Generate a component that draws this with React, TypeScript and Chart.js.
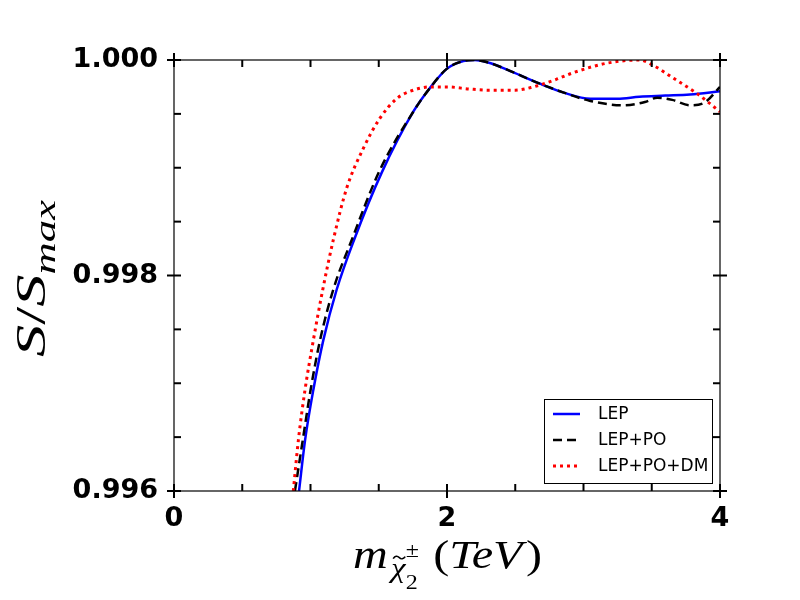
import React, { useEffect, useRef } from "react";
import { Chart, registerables } from "chart.js";

Chart.register(...registerables);

// values
const seriesLabels = ["LEP", "LEP+PO", "LEP+PO+DM"];
const seriesColors = ["#0000ff", "#000000", "#ff0000"];

const lepMass = [0.916, 0.96, 1.021, 1.094, 1.192, 1.319, 1.52, 1.753, 1.875, 2.0, 2.12, 2.2, 2.32, 2.44, 2.68, 2.85, 3.05, 3.25, 3.41, 3.6, 3.78, 4.0];
const lepRatio = [0.996, 0.99647, 0.99694, 0.9974, 0.99787, 0.99833, 0.99895, 0.99952, 0.99974, 0.99992, 0.99999, 1.0, 0.99997, 0.99991, 0.99978, 0.9997, 0.99964, 0.99964, 0.99966, 0.99967, 0.99968, 0.99971];

const lepPoMass = [0.886, 0.943, 1.001, 1.07, 1.167, 1.302, 1.505, 1.753, 1.875, 2.0, 2.12, 2.2, 2.32, 2.44, 2.68, 2.85, 3.05, 3.29, 3.45, 3.54, 3.65, 3.78, 3.88, 4.0];
const lepPoRatio = [0.996, 0.99647, 0.99694, 0.9974, 0.99787, 0.99833, 0.99897, 0.99952, 0.99974, 0.99992, 0.99999, 1.0, 0.99997, 0.99991, 0.99978, 0.9997, 0.99962, 0.99958, 0.99961, 0.99965, 0.99963, 0.99958, 0.9996, 0.99975];

const lepPoDmMass = [0.874, 0.911, 0.96, 1.021, 1.09, 1.167, 1.265, 1.387, 1.509, 1.63, 1.753, 1.875, 2.0, 2.17, 2.31, 2.5, 2.63, 2.8, 2.92, 3.17, 3.41, 3.51, 3.66, 3.83, 4.0];
const lepPoDmRatio = [0.996, 0.99647, 0.99694, 0.9974, 0.99787, 0.99833, 0.99881, 0.99918, 0.99946, 0.99964, 0.99972, 0.99975, 0.99975, 0.99973, 0.99972, 0.99972, 0.99975, 0.99982, 0.99988, 0.99997, 1.0, 0.99995, 0.99983, 0.99969, 0.99952];

const xTickValues = [0, 2, 4];
const xMinorTicks = [0.5, 1, 1.5, 2.5, 3, 3.5];
const yTickValues = [0.996, 0.998, 1.0];
const yMinorTicks = [0.9965, 0.997, 0.9975, 0.9985, 0.999, 0.9995];

const tickFont = { family: "'DejaVu Sans'", size: 27, weight: "bold" as const };
const serif = "'Liberation Serif', 'DejaVu Serif', serif";

type Seg = { text: string; size: number; italic: boolean; dy: number; dx?: number; stack?: Seg; tilde?: boolean };

// draws a little mathtext run, centred on (cx, baseline), stretched to targetW
function drawMath(ctx: CanvasRenderingContext2D, segs: Seg[], cx: number, baseline: number, targetW: number) {
  const font = (s: Seg) => `${s.italic ? "italic " : ""}${s.size}px ${serif}`;
  const widths = segs.map((s) => {
    ctx.font = font(s);
    let w = ctx.measureText(s.text).width;
    if (s.stack) {
      ctx.font = font(s.stack);
      w = Math.max(w, ctx.measureText(s.stack.text).width);
    }
    return w + (s.dx ?? 0);
  });
  const total = widths.reduce((a, b) => a + b, 0);
  const sx = targetW / total;
  ctx.save();
  ctx.translate(cx - targetW / 2, baseline);
  ctx.scale(sx, 1);
  ctx.fillStyle = "#000";
  ctx.strokeStyle = "#000";
  ctx.textAlign = "left";
  ctx.textBaseline = "alphabetic";
  let x = 0;
  segs.forEach((s, i) => {
    x += s.dx ?? 0;
    ctx.font = font(s);
    ctx.fillText(s.text, x, s.dy);
    if (s.tilde) {
      const w = ctx.measureText(s.text).width;
      const mx = x + w * 0.55;
      const ty = s.dy - s.size * 0.72;
      ctx.lineWidth = 1.4;
      ctx.beginPath();
      ctx.moveTo(mx - 5, ty + 1);
      ctx.quadraticCurveTo(mx - 2.5, ty - 3, mx, ty);
      ctx.quadraticCurveTo(mx + 2.5, ty + 3, mx + 5, ty - 1);
      ctx.stroke();
    }
    if (s.stack) {
      ctx.font = font(s.stack);
      ctx.fillText(s.stack.text, x, s.stack.dy);
    }
    x += widths[i] - (s.dx ?? 0);
  });
  ctx.restore();
}

const framePlugin = {
  id: "frameTicks",
  afterDraw(chart: Chart) {
    const { ctx, chartArea: a } = chart;
    const xs = chart.scales.x;
    const ys = chart.scales.y;
    ctx.save();
    ctx.strokeStyle = "#000";
    ctx.lineWidth = 1.2;
    ctx.strokeRect(a.left, a.top, a.right - a.left, a.bottom - a.top);

    ctx.lineWidth = 2;
    const seg = (x1: number, y1: number, x2: number, y2: number) => {
      ctx.beginPath();
      ctx.moveTo(x1, y1);
      ctx.lineTo(x2, y2);
      ctx.stroke();
    };
    const major = 7;
    const minor = 7;
    xTickValues.forEach((v) => {
      const p = xs.getPixelForValue(v);
      seg(p, a.bottom - major, p, a.bottom + major);
      seg(p, a.top - major, p, a.top + major);
    });
    xMinorTicks.forEach((v) => {
      const p = xs.getPixelForValue(v);
      seg(p, a.bottom - minor, p, a.bottom);
      seg(p, a.top, p, a.top + minor);
    });
    yTickValues.forEach((v) => {
      const p = ys.getPixelForValue(v);
      seg(a.left - major, p, a.left + major, p);
      seg(a.right - major, p, a.right + major, p);
    });
    yMinorTicks.forEach((v) => {
      const p = ys.getPixelForValue(v);
      seg(a.left, p, a.left + minor, p);
      seg(a.right - minor, p, a.right, p);
    });

    // legend box
    const lx = 544, ly = 399, lw = 168, lh = 84;
    ctx.fillStyle = "#fff";
    ctx.fillRect(lx, ly, lw, lh);
    ctx.lineWidth = 1;
    ctx.strokeStyle = "#000";
    ctx.strokeRect(lx + 0.5, ly + 0.5, lw, lh);
    chart.data.datasets.forEach((ds: any, i: number) => {
      const ry = 414 + i * 26;
      ctx.strokeStyle = ds.borderColor;
      ctx.lineWidth = ds.borderWidth;
      ctx.setLineDash(ds.borderDash || []);
      seg(553, ry, 580, ry);
      ctx.setLineDash([]);
      ctx.fillStyle = "#000";
      ctx.font = "17px 'DejaVu Sans'";
      ctx.textAlign = "left";
      ctx.textBaseline = "middle";
      ctx.fillText(ds.label, 598, ry + 1);
    });

    // axis titles
    drawMath(
      ctx,
      [
        { text: "m", size: 40, italic: true, dy: 0 },
        { text: "\u03C7", size: 27, italic: true, dy: 9, dx: 3, tilde: true },
        { text: "\u00B1", size: 20, italic: false, dy: -11, stack: { text: "2", size: 20, italic: false, dy: 21 } },
        { text: "(", size: 40, italic: false, dy: 0, dx: 12 },
        { text: "TeV", size: 40, italic: true, dy: 0 },
        { text: ")", size: 40, italic: false, dy: 0, dx: 3 },
      ],
      447.5,
      568,
      189
    );
    ctx.save();
    ctx.translate(45, 278.5);
    ctx.rotate(-Math.PI / 2);
    drawMath(
      ctx,
      [
        { text: "S", size: 42, italic: true, dy: 0 },
        { text: "/", size: 42, italic: false, dy: 0 },
        { text: "S", size: 42, italic: true, dy: 0 },
        { text: "max", size: 29, italic: true, dy: 10 },
      ],
      0,
      0,
      157
    );
    ctx.restore();
    ctx.restore();
  },
};

const App: React.FC = () => {
  const chartRef = useRef<HTMLCanvasElement | null>(null);

  useEffect(() => {
    if (!chartRef.current) return;
    const toPoints = (xs: number[], ys: number[]) => xs.map((x, i) => ({ x, y: ys[i] }));

    const chart = new Chart(chartRef.current, {
      type: "scatter",
      data: {
        datasets: [
          {
            label: seriesLabels[0],
            data: toPoints(lepMass, lepRatio),
            borderColor: seriesColors[0],
            borderWidth: 2.5,
            order: 3,
          },
          {
            label: seriesLabels[1],
            data: toPoints(lepPoMass, lepPoRatio),
            borderColor: seriesColors[1],
            borderWidth: 2.5,
            borderDash: [9, 5],
            order: 2,
          },
          {
            label: seriesLabels[2],
            data: toPoints(lepPoDmMass, lepPoDmRatio),
            borderColor: seriesColors[2],
            borderWidth: 3,
            borderDash: [3, 4],
            order: 1,
          },
        ] as any,
      },
      options: {
        responsive: false,
        animation: false,
        showLine: true,
        layout: { padding: { left: 0, top: 60, right: 80, bottom: 0 } },
        elements: {
          point: { radius: 0, hoverRadius: 0 },
          line: { cubicInterpolationMode: "monotone", fill: false },
        },
        plugins: {
          legend: { display: false },
          tooltip: { enabled: false },
        },
        scales: {
          x: {
            type: "linear",
            min: 0,
            max: 4,
            grid: { display: false, drawTicks: false },
            border: { display: false },
            afterBuildTicks: (s: any) => {
              s.ticks = xTickValues.map((v) => ({ value: v }));
            },
            afterFit: (s: any) => {
              s.height = 109;
            },
            ticks: {
              font: tickFont,
              color: "#000",
              padding: 12,
              maxRotation: 0,
              callback: (v: any) => String(v),
            },
          },
          y: {
            type: "linear",
            min: 0.996,
            max: 1.0,
            grid: { display: false, drawTicks: false },
            border: { display: false },
            afterBuildTicks: (s: any) => {
              s.ticks = yTickValues.map((v) => ({ value: v }));
            },
            afterFit: (s: any) => {
              s.width = 174;
            },
            ticks: {
              font: tickFont,
              color: "#000",
              padding: 16,
              callback: (v: any) => Number(v).toFixed(3),
            },
          },
        },
      },
      plugins: [framePlugin],
    });

    return () => {
      chart.destroy();
    };
  }, []);

  return (
    <div style={{ position: "fixed", left: 0, top: 0, width: 800, height: 600, background: "#fff" }}>
      <canvas ref={chartRef} width={800} height={600} />
    </div>
  );
};

export default App;
